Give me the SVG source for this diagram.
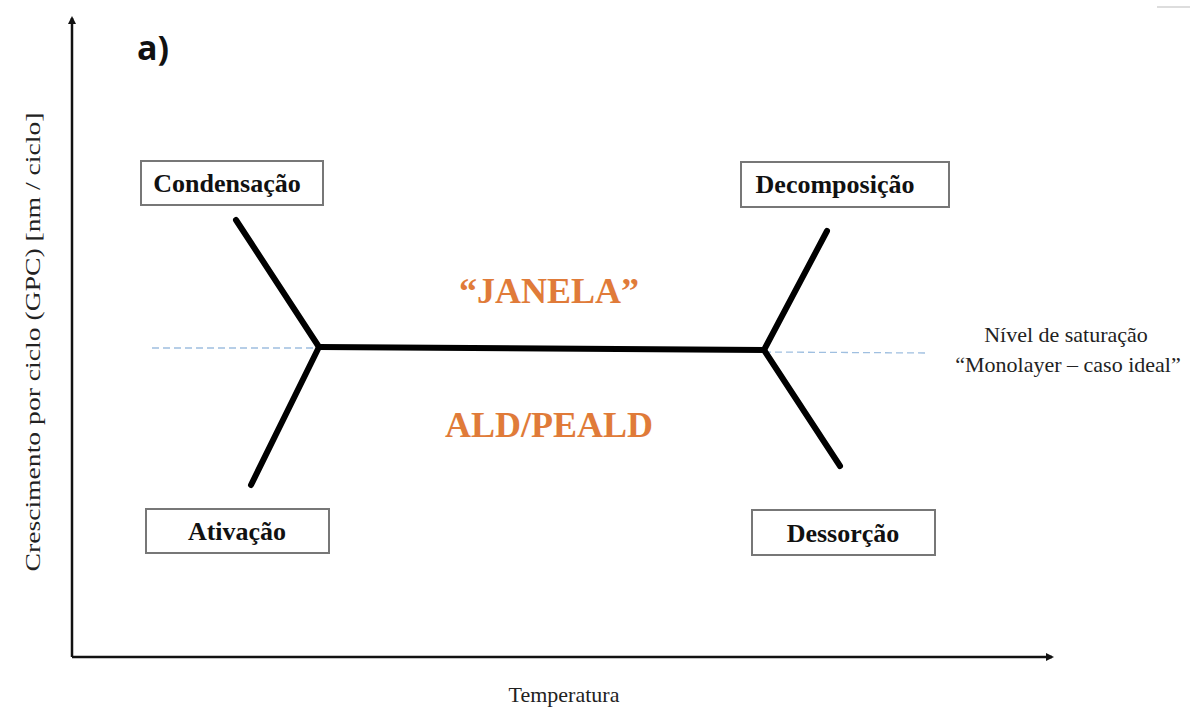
<svg xmlns="http://www.w3.org/2000/svg" width="1190" height="713" viewBox="0 0 1190 713">
<style>
.box{fill:#fff;stroke:#777;stroke-width:2}
.lbl{font-family:"Liberation Serif",serif;font-weight:bold;font-size:26px;fill:#111;text-anchor:middle}
.br{stroke:#000;stroke-width:6;stroke-linecap:round;fill:none}
.dash{stroke:#9fbfe0;stroke-width:1.3;stroke-dasharray:7,4;fill:none}
.or{font-family:"Liberation Serif",serif;font-weight:bold;font-size:36px;fill:#e07b39;text-anchor:middle}
.ax{stroke:#111;stroke-width:2.5;fill:none}
.txt{font-family:"Liberation Serif",serif;font-size:22px;fill:#222;text-anchor:middle}
</style>
<defs>
<marker id="ah" markerWidth="8" markerHeight="8" refX="6" refY="4" orient="auto" markerUnits="userSpaceOnUse">
<path d="M0,0 L8,4 L0,8 Z" fill="#111"/>
</marker>
</defs>
<rect width="1190" height="713" fill="#fff"/>
<line x1="1157" y1="7" x2="1190" y2="7" stroke="#ddd" stroke-width="2"/>
<g id="axes">
<line class="ax" x1="72" y1="657" x2="72" y2="18" marker-end="url(#ah)"/>
<line class="ax" x1="72" y1="657" x2="1052" y2="657" marker-end="url(#ah)"/>
<text class="txt" font-size="26" textLength="459" lengthAdjust="spacingAndGlyphs" transform="translate(40,342) rotate(-90)">Crescimento por ciclo (GPC) [nm / ciclo]</text>
<text class="txt" x="564" y="702" font-size="25">Temperatura</text>
<text x="137" y="60" font-family="'Open Sans',sans-serif" font-weight="bold" font-size="34" fill="#111">a)</text>
</g>
<g id="connectors">
<line class="dash" x1="152" y1="348" x2="319" y2="348"/>
<line class="dash" x1="764" y1="352" x2="928" y2="353"/>
<line class="br" x1="319" y1="347" x2="764" y2="350"/>
<line class="br" x1="236" y1="220" x2="319" y2="347"/>
<line class="br" x1="319" y1="347" x2="251" y2="485"/>
<line class="br" x1="764" y1="350" x2="827" y2="231"/>
<line class="br" x1="764" y1="350" x2="840" y2="466"/>
</g>
<g id="condensacao">
<rect class="box" x="141" y="161" width="182" height="44"/>
<text class="lbl" x="227" y="192">Condensação</text>
</g>
<g id="decomposicao">
<rect class="box" x="741" y="162" width="208" height="45"/>
<text class="lbl" x="835" y="193">Decomposição</text>
</g>
<g id="ativacao">
<rect class="box" x="146" y="509" width="183" height="44"/>
<text class="lbl" x="237" y="540">Ativação</text>
</g>
<g id="dessorcao">
<rect class="box" x="752" y="510" width="183" height="45"/>
<text class="lbl" x="843" y="542">Dessorção</text>
</g>
<g id="janela">
<text class="or" x="549" y="303">“JANELA”</text>
<text class="or" x="549" y="437">ALD/PEALD</text>
</g>
<g id="saturacao">
<text class="txt" x="1066" y="342">Nível de saturação</text>
<text class="txt" x="1068" y="372">“Monolayer  – caso ideal”</text>
</g>
</svg>
